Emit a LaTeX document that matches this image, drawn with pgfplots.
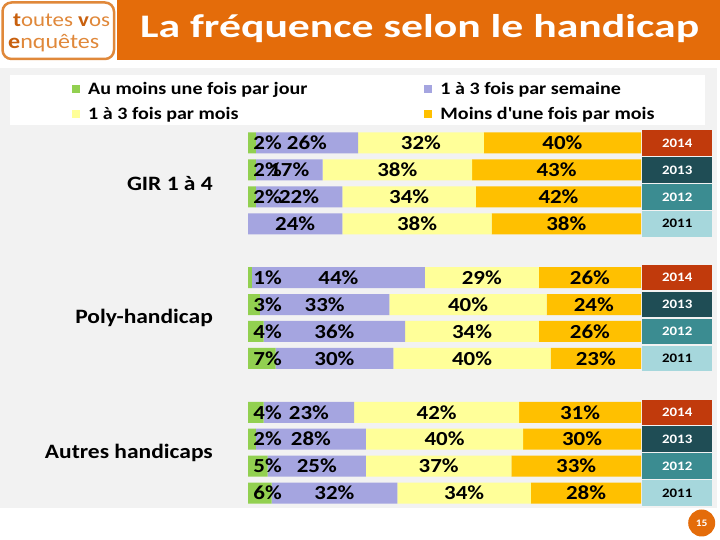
\documentclass[border=0pt]{standalone}
\usepackage{pgfplots}
\pgfplotsset{compat=1.18}
\usepackage{pgfplotstable}
\usepackage{fontspec}
\setmainfont{Carlito}[FakeStretch=1.15]
\newfontfamily\titlefont{Carlito}[FakeStretch=1.33]

\definecolor{headorange}{HTML}{E46C0A}
\definecolor{logotxt}{HTML}{E0883A}
\definecolor{logodark}{HTML}{C8600E}
\definecolor{bggray}{HTML}{F2F2F2}
\definecolor{cgreen}{HTML}{92D050}
\definecolor{cpurple}{HTML}{A5A5E0}
\definecolor{cyellow}{HTML}{FFFF99}
\definecolor{corange}{HTML}{FFC000}
\definecolor{yA}{HTML}{C13A0C}
\definecolor{yB}{HTML}{1F4D55}
\definecolor{yC}{HTML}{3B8C91}
\definecolor{yD}{HTML}{A6D7DC}

% row: position (0 = top), g/p/y/o = shares in %
\pgfplotstableread{
row g p y o
0  2 26 32 40
1  2 17 38 43
2  2 22 34 42
3  0 24 38 38
5  1 44 29 26
6  3 33 40 24
7  4 36 34 26
8  7 30 40 23
10 4 23 42 31
11 2 28 40 30
12 5 25 37 33
13 6 32 34 28
}\data

\pgfplotsset{
  frame/.style={
    at={(248bp,33.5bp)}, anchor=south west,
    width=393bp, height=377bp, scale only axis,
    xmin=0, xmax=100, ymin=-0.5, ymax=13.5, y dir=reverse,
    clip=false,
  },
}
\tikzset{
  yr/.style={anchor=west, xshift=1bp, minimum width=70bp, minimum height=25.5bp,
    inner sep=0pt, font=\bfseries\fontsize{13}{13}\selectfont},
}

\begin{document}
\begin{tikzpicture}
\path[use as bounding box] (0,0) rectangle (720bp,540bp);
\fill[white] (0,0) rectangle (720bp,540bp);
\fill[bggray] (0bp,32bp) rectangle (717bp,472bp);
\fill[white] (10bp,415bp) rectangle (705bp,465bp);

% header
\fill[headorange] (117bp,480bp) rectangle (720bp,540bp);
\draw[logotxt, line width=2.5bp, fill=white, rounded corners=9bp] (2.5bp,481bp) rectangle (114bp,537.5bp);
\node[anchor=base west, inner sep=0pt, text=logotxt, font=\fontsize{20}{20}\selectfont]
  at (13bp,513bp) {{\bfseries\color{logodark}t}outes {\bfseries\color{logodark}v}os};
\node[anchor=base west, inner sep=0pt, text=logotxt, font=\fontsize{21}{21}\selectfont]
  at (8bp,491bp) {{\bfseries\color{logodark}e}nquêtes};
\node[anchor=base west, inner sep=0pt, text=white, font=\titlefont\bfseries\fontsize{33}{33}\selectfont]
  at (140bp,502.5bp) {La fréquence selon le handicap};

% page number
\fill[headorange] (701.7bp,17bp) circle (13.5bp);
\node[text=white, font=\bfseries\fontsize{10}{10}\selectfont] at (701.7bp,17bp) {15};

\begin{axis}[
  frame,
  xbar stacked, bar width=0.78,
  axis line style={draw=none}, major tick length=0pt,
  xtick=\empty, ytick={1.5,6.5,11.5},
  yticklabels={GIR 1 à 4, Poly-handicap, Autres handicaps},
  y tick label style={font=\bfseries\fontsize{20.5}{22}\selectfont, anchor=east, inner sep=0pt, xshift=-35bp},
  every axis plot post/.append style={
    legend image code/.code={\fill[##1] (0bp,-4bp) rectangle (8bp,4bp);}},
  legend columns=2, legend cell align=left,
  legend style={at={(axis description cs:-0.4478,1.1313)}, anchor=north west,
    draw=none, fill=none, inner sep=0pt, row sep=7bp,
    font=\bfseries\fontsize{17.5}{19}\selectfont,
    /tikz/column 1/.style={column sep=6bp},
    /tikz/column 2/.style={column sep=115bp},
    /tikz/column 3/.style={column sep=6bp}},
]
\addplot[fill=cgreen, draw=none] table[x=g, y=row] {\data};
\addlegendentry{Au moins une fois par jour}
\addplot[fill=cpurple, draw=none] table[x=p, y=row] {\data};
\addlegendentry{1 à 3 fois par semaine}
\addplot[fill=cyellow, draw=none] table[x=y, y=row] {\data};
\addlegendentry{1 à 3 fois par mois}
\addplot[fill=corange, draw=none] table[x=o, y=row] {\data};
\addlegendentry{Moins d\textquotesingle une fois par mois}

% year cells
\node[yr, fill=yA, text=white] at (axis cs:100,0) {2014};
\node[yr, fill=yB, text=white] at (axis cs:100,1) {2013};
\node[yr, fill=yC, text=white] at (axis cs:100,2) {2012};
\node[yr, fill=yD, text=black] at (axis cs:100,3) {2011};
\node[yr, fill=yA, text=white] at (axis cs:100,5) {2014};
\node[yr, fill=yB, text=white] at (axis cs:100,6) {2013};
\node[yr, fill=yC, text=white] at (axis cs:100,7) {2012};
\node[yr, fill=yD, text=black] at (axis cs:100,8) {2011};
\node[yr, fill=yA, text=white] at (axis cs:100,10) {2014};
\node[yr, fill=yB, text=white] at (axis cs:100,11) {2013};
\node[yr, fill=yC, text=white] at (axis cs:100,12) {2012};
\node[yr, fill=yD, text=black] at (axis cs:100,13) {2011};
\end{axis}

% value labels, centred in each segment
\begin{axis}[
  frame, hide axis,
  point meta=explicit symbolic,
  nodes near coords={\pgfplotspointmeta\%},
  every node near coord/.append style={anchor=center, inner sep=0pt,
    font=\bfseries\fontsize{20}{20}\selectfont, text=black},
]
\addplot[draw=none, skip coords between index={3}{4}]
  table[x expr={max(\thisrow{g}/2,5)}, y=row, meta=g] {\data};
\addplot[draw=none] table[x expr={\thisrow{g}+\thisrow{p}/2}, y=row, meta=p] {\data};
\addplot[draw=none] table[x expr={\thisrow{g}+\thisrow{p}+\thisrow{y}/2}, y=row, meta=y] {\data};
\addplot[draw=none] table[x expr={\thisrow{g}+\thisrow{p}+\thisrow{y}+\thisrow{o}/2}, y=row, meta=o] {\data};
\end{axis}
\end{tikzpicture}
\end{document}
